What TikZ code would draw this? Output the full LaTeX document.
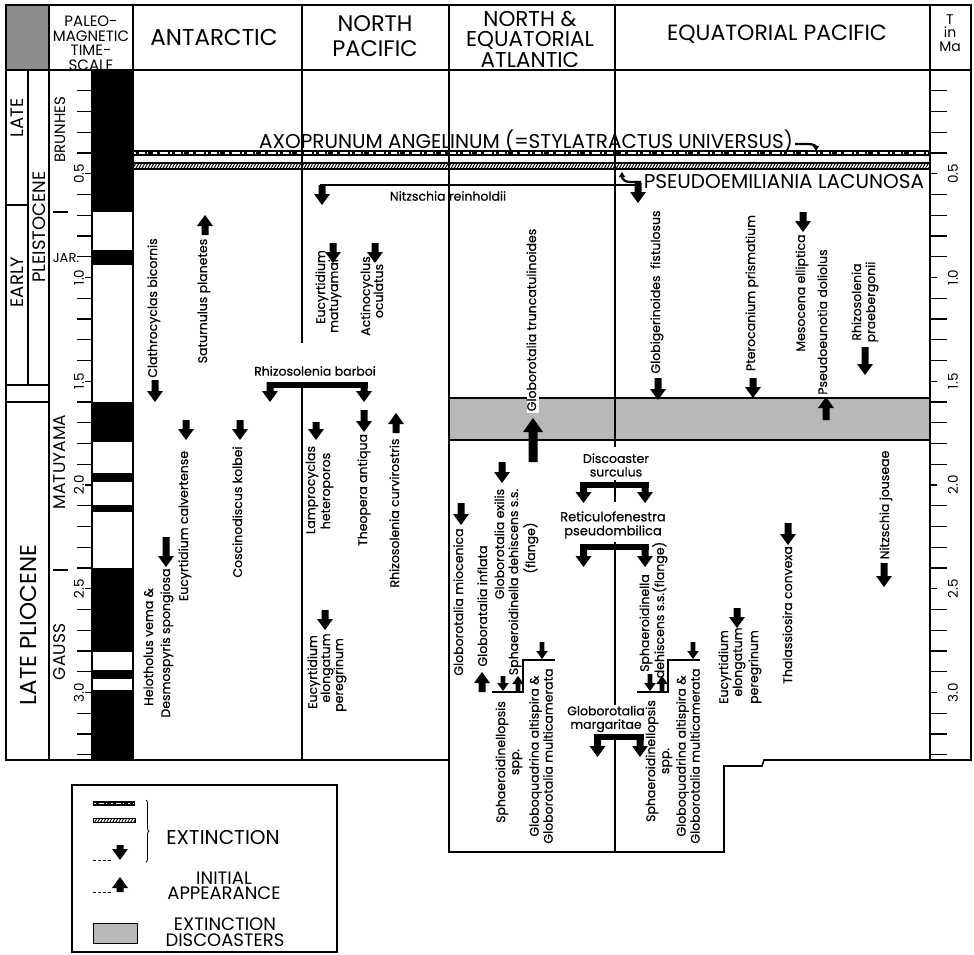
\documentclass[tikz,border=0pt]{standalone}
\usepackage{fontspec}
\setmainfont{Poppins}
\newfontfamily\spf{Poppins}[FakeBold=0.5]
\usetikzlibrary{patterns.meta,decorations.pathreplacing,arrows.meta}
\newcommand\fs[2]{\fontsize{#1}{#2}\selectfont}
\newcommand\DnArr[3][22]{\fill (#2-3.5,#3-#1) -- (#2+3.5,#3-#1) -- (#2+3.5,#3-11) -- (#2+8,#3-11) -- (#2,#3) -- (#2-8,#3-11) -- (#2-3.5,#3-11) -- cycle;}
\newcommand\UpArr[3][22]{\fill (#2-3.5,#3+#1) -- (#2+3.5,#3+#1) -- (#2+3.5,#3+11) -- (#2+8,#3+11) -- (#2,#3) -- (#2-8,#3+11) -- (#2-3.5,#3+11) -- cycle;}
\newcommand\SDn[3][16]{\fill (#2-2.3,#3-#1) -- (#2+2.3,#3-#1) -- (#2+2.3,#3-8) -- (#2+5.8,#3-8) -- (#2,#3) -- (#2-5.8,#3-8) -- (#2-2.3,#3-8) -- cycle;}
\newcommand\SUp[3][16]{\fill (#2-2.3,#3+#1) -- (#2+2.3,#3+#1) -- (#2+2.3,#3+8) -- (#2+5.8,#3+8) -- (#2,#3) -- (#2-5.8,#3+8) -- (#2-2.3,#3+8) -- cycle;}
\begin{document}
\begin{tikzpicture}[x=1pt,y=-1pt,
  frame/.style={line width=1.6pt},
  div/.style={line width=1.3pt},
  tick/.style={line width=1.2pt},
  sp/.style={rotate=90,font=\spf\fs{12.5}{13.5},inner sep=0pt,text height=9pt,text depth=3pt},
  spm/.style={rotate=90,font=\spf\fs{12.5}{14},inner sep=0pt,align=center},
  hsp/.style={font=\spf\fs{12.5}{13.5},inner sep=0pt,align=center},
  hdr/.style={font=\fs{22}{22},inner sep=0pt,align=center},
  big/.style={font=\fs{20}{20},inner sep=0pt},
  ep/.style={rotate=90,font=\fs{18}{18},inner sep=0pt},
  chron/.style={rotate=90,font=\fs{17}{17},inner sep=0pt},
  num/.style={rotate=90,font=\fs{13.5}{13.5},inner sep=0pt},
  leg/.style={font=\fs{18}{15.5},inner sep=0pt,align=center}]
\useasboundingbox (0,0) rectangle (974,955);

% header stipple box
\fill[black!45] (6,5) rectangle (49,70);

% polarity bar
\fill (92,70) rectangle (133,212);
\fill (92,250) rectangle (133,265);
\fill (92,402) rectangle (133,442);
\fill (92,473) rectangle (133,482);
\fill (92,505) rectangle (133,512);
\fill (92,568) rectangle (133,652);
\fill (92,670) rectangle (133,679);
\fill (92,690) rectangle (133,760);

% discoaster extinction stipple
\filldraw[fill=black!28,line width=1.3pt] (449,398) rectangle (930,440);

% bands
\fill (133,150) rectangle (930,156);
\draw[white,line width=1.1pt,dash pattern=on 2 off 3 on 6 off 2 on 1 off 5 on 4 off 3 on 8 off 2] (134,153) -- (929,153);
\draw[line width=1.1pt,pattern={Lines[angle=60,distance=2.6pt,line width=1pt]}] (133,163) rectangle (930,169);

% frame and dividers
\draw[frame] (6,5) -- (971,5) -- (971,760) -- (764,760) -- (762,766) -- (724,766) -- (724,852) -- (449,852) -- (449,760) -- (6,760) -- cycle;
\draw[div] (6,70) -- (971,70);
\draw[div] (49,5) -- (49,760);
\draw[div] (133,5) -- (133,760);
\draw[div] (302,5) -- (302,343);
\draw[div] (302,388) -- (302,760);
\draw[div] (449,5) -- (449,760);
\draw[div] (615,5) -- (615,447);
\draw[div] (930,5) -- (930,760);
\draw[div] (28,70) -- (28,385);
\draw[div] (6,205) -- (28,205);
\draw[div] (6,385) -- (49,385);
\draw[div] (6,402) -- (49,402);
\draw[div] (92,70) -- (92,760);
\draw[tick] (53,212) -- (68,212);
\draw[tick] (53,570) -- (68,570);

% ticks
\foreach \t in {1,...,33}{
  \pgfmathsetmacro\yy{70+20.75*\t}
  \pgfmathtruncatemacro\m{mod(\t,5)}
  \ifnum\m=0
    \draw[tick] (85,\yy) -- (92,\yy);
    \draw[tick] (930,\yy) -- (937,\yy);
  \else
    \draw[tick] (77,\yy) -- (92,\yy);
    \draw[tick] (930,\yy) -- (947,\yy);
  \fi
}
\foreach \t/\l in {5/0.5,10/1.0,15/1.5,20/2.0,25/2.5,30/3.0}{
  \node[num] at (79,{70+20.75*\t}) {\l};
  \node[num] at (953,{70+20.75*\t}) {\l};
}

% header texts
\node[font=\fs{15}{14.5},align=center,inner sep=0pt] (pmt) at (91,43.5) {PALEO-\\MAGNETIC\\TIME-\\SCALE};
\node[hdr,font=\fs{23}{23}] (ant) at (214,37) {ANTARCTIC};
\node[hdr,font=\fs{22.5}{25}] (np) at (375,36) {NORTH\\PACIFIC};
\node[hdr,font=\fs{21.5}{20.5}] (nea) at (530,39) {NORTH \&\\EQUATORIAL\\ATLANTIC};
\node[hdr] (eqp) at (777,34) {EQUATORIAL PACIFIC};
\node[font=\fs{14}{13.5},align=center,inner sep=0pt] (tma) at (950,33) {T\\in\\Ma};

% epochs and chrons
\node[ep] (late) at (17,118) {LATE};
\node[ep] (early) at (17,282) {EARLY};
\node[ep,font=\fs{18}{18}] (pleist) at (39,227) {PLEISTOCENE};
\node[ep,font=\fs{23}{23}] (lplio) at (28,625) {LATE PLIOCENE};
\node[chron,font=\fs{15}{15}] (bru) at (60,130) {BRUNHES};
\node[chron] (mat) at (60,462) {MATUYAMA};
\node[chron] (gau) at (60,652) {GAUSS};
\node[font=\fs{13}{13},inner sep=0pt] (jar) at (66,258) {JAR.};

% band labels
\node[big] (axo) at (526,141) {AXOPRUNUM ANGELINUM (=STYLATRACTUS UNIVERSUS)};
\node[big] (pse) at (784,182) {PSEUDOEMILIANIA LACUNOSA};
\draw[line width=2.2pt,-{Triangle[length=5pt,width=6pt]}] (795,144) -- (808,144) .. controls (813,144) and (816,146) .. (816,151);
\draw[line width=2.2pt,-{Triangle[length=5pt,width=6pt]}] (641,182) -- (630,182) .. controls (625,182) and (622,179) .. (622,172);

% Nitzschia reinholdii
\draw[line width=1.5pt] (320,185) -- (640,185);
\DnArr[20]{322}{205}
\DnArr[20]{638}{203}
\node[hsp] (nre) at (448,196) {Nitzschia reinholdii};

% Antarctic
\node[sp] (a1) at (154,308) {Clathrocyclas bicornis};
\DnArr{155}{402}
\node[sp] (a2) at (204,301) {Saturnulus planetes};
\UpArr[20]{205}{215}
\node[sp] (a3) at (185,526) {Eucyrtidium calvertense};
\DnArr[20]{186}{440}
\node[sp] (a4) at (239,512) {Coscinodiscus kolbei};
\DnArr[20]{240}{440}
\node[sp] (a5) at (150,647) {Helotholus vema \&};
\node[sp] (a6) at (167,643) {Desmospyris spongiosa};
\DnArr[30]{166}{567}

% Rhizosolenia barboi
\node[hsp] (rba) at (315,371) {Rhizosolenia barboi};
\fill (266.5,382) rectangle (367.5,388);
\DnArr[20]{270}{402}
\DnArr[20]{364}{402}

% North Pacific
\node[sp] (n1) at (322,287) {Eucyrtidium};
\node[sp] (n2) at (335,296) {matuyamai};
\DnArr[20]{333}{263}
\node[sp] (n3) at (367,296) {Actinocyclus};
\node[sp] (n4) at (380,291) {oculatus};
\DnArr[20]{375}{263}
\node[sp] (n5) at (312,490) {Lamprocyclas};
\node[sp] (n6) at (327,491) {heteroporos};
\DnArr[18]{316}{440}
\node[sp] (n7) at (364,490) {Theopera antiqua};
\DnArr{364}{432}
\node[sp] (n8) at (396,513) {Rhizosolenia curvirostris};
\UpArr[20]{396}{413}
\node[sp] (n9) at (314,672) {Eucyrtidium};
\node[sp] (n10) at (327,668) {elongatum};
\node[sp] (n11) at (340,675) {peregrinum};
\DnArr[20]{325}{630}

% Atlantic
\node[sp,fill=white,inner xsep=2pt] (t1) at (533,320) {Globorotalia truncatulinoides};
\fill (528.5,462) -- (537.5,462) -- (537.5,432) -- (543,432) -- (533,418) -- (523,432) -- (528.5,432) -- cycle;
\node[sp] (t2) at (460,602) {Globorotalia miocenica};
\DnArr{461}{525}
\node[sp] (t3) at (484,606) {Globoratalia inflata};
\UpArr[20]{482}{672}
\node[sp] (t4) at (501,544) {Globorotalia exilis};
\DnArr[21]{502}{483}
\node[sp] (t5) at (515,582) {Sphaeroidinella dehiscens s.s.};
\node[sp] (t6) at (532,548) {(flange)};
\node[spm] (t7) at (509,762) {Sphaeroidinellopsis\\spp.};
\node[spm] (t8) at (541,756) {Globoquadrina altispira \&\\Globorotalia multicamerata};
\draw[line width=1.3pt] (492,692) -- (523,692) -- (523,660) -- (555,660);
\SDn[15]{503}{691}
\SUp[15]{518}{676}
\SDn[17]{542}{659}

% Atlantic brackets
\node[hsp] (disc) at (616,465) {Discoaster\\surculus};
\draw[div] (615,440) -- (615,447);
\draw[div] (615,480) -- (615,502);
\fill (580,482) rectangle (648.5,488);
\DnArr[21]{583.5}{503}
\DnArr[21]{645}{503}
\node[hsp,font=\spf\fs{13}{14}] (reti) at (613,525) {Reticulofenestra\\pseudombilica};
\draw[div] (615,542) -- (615,705);
\fill (580,544) rectangle (648.5,550);
\DnArr[23]{583.5}{567}
\DnArr[23]{645}{567}
\node[hsp] (marg) at (606,719) {Globorotalia\\margaritae};
\draw[div] (615,734) -- (615,852);
\fill (594,734) rectangle (643.5,740);
\DnArr[23]{597.5}{757}
\DnArr[23]{640}{757}

% Equatorial Pacific
\DnArr{658}{400}
\node[sp] (e1) at (657,292) {Globigerinoides~~fistulosus};
\node[sp] (e2) at (752,293) {Pterocanium prismatium};
\DnArr[20]{753}{398}
\node[sp] (e3) at (802,293) {Mesocena elliptica};
\DnArr[20]{803}{232}
\node[sp] (e4) at (824,322) {Pseudoeunotia doliolus};
\UpArr[23]{826}{397}
\node[spm] (e5) at (865,302) {Rhizosolenia\\praebergonii};
\DnArr[28]{865}{375}
\node[sp] (e6) at (886,505) {Nitzschia jouseae};
\DnArr[24]{884}{587}
\node[sp] (e7) at (789,615) {Thalassiosira convexa};
\DnArr{788}{545}
\node[sp] (e8) at (725,667) {Eucyrtidium};
\node[sp] (e9) at (739,662) {elongatum};
\node[sp] (e10) at (755,667) {peregrinum};
\DnArr[20]{737}{628}
\node[sp] (e11) at (646,623) {Sphaeroidinella};
\node[sp] (e12) at (661,610) {dehiscens s.s.(flange)};
\node[spm] (e13) at (659,761) {Sphaeroidinellopsis\\spp.};
\node[spm] (e14) at (688,756) {Globoquadrina altispira \&\\Globorotalia multicamerata};
\draw[line width=1.3pt] (637,692) -- (668,692) -- (668,660) -- (700,660);
\SDn[17]{650}{691}
\SUp[16]{662}{676}
\SDn[17]{693}{659}

% legend
\draw[line width=1.3pt] (72,785) rectangle (337,952);
\fill (93,801) rectangle (135,806);
\draw[white,line width=0.8pt,dash pattern=on 2 off 3 on 5 off 2 on 1 off 4] (94,803.5) -- (134,803.5);
\draw[line width=0.8pt,pattern={Lines[angle=60,distance=2.6pt,line width=0.9pt]}] (93,818) rectangle (135,822);
\draw[line width=0.8pt,decorate,decoration={brace,amplitude=3pt}] (146,800) -- (146,862);
\draw[line width=0.8pt,dash pattern=on 3 off 2] (93,860) -- (113,860);
\DnArr[15]{120}{860}
\draw[line width=0.8pt,dash pattern=on 3 off 2] (93,892) -- (113,892);
\UpArr[15]{120}{877}
\filldraw[fill=black!28,line width=1pt] (93,923) rectangle (137,943);
\node[leg,font=\fs{20}{20}] (l1) at (223,837) {EXTINCTION};
\node[leg] (l2) at (224,886) {INITIAL\\APPEARANCE};
\node[leg,font=\fs{18}{16}] (l3) at (225,932) {EXTINCTION\\DISCOASTERS};
\end{tikzpicture}
\end{document}
